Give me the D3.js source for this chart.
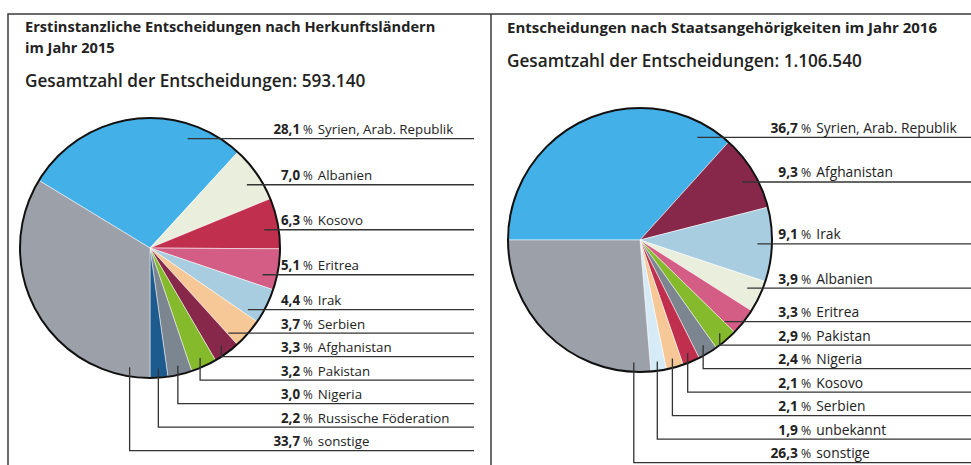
<!DOCTYPE html>
<html>
<head>
<meta charset="utf-8">
<script src="https://cdn.jsdelivr.net/npm/d3@7"></script>
<style>
  body { margin: 0; background: #fff; }
  text { font-family: "Open Sans", "Noto Sans", sans-serif; fill: #222; }
</style>
</head>
<body>
<div id="chart"></div>
<script>
// --- data
var countries2015 = ["Syrien, Arab. Republik", "Albanien", "Kosovo", "Eritrea", "Irak", "Serbien",
  "Afghanistan", "Pakistan", "Nigeria", "Russische Föderation", "sonstige"];
var shares2015 = [28.1, 7.0, 6.3, 5.1, 4.4, 3.7, 3.3, 3.2, 3.0, 2.2, 33.7];

var countries2016 = ["Syrien, Arab. Republik", "Afghanistan", "Irak", "Albanien", "Eritrea", "Pakistan",
  "Nigeria", "Kosovo", "Serbien", "unbekannt", "sonstige"];
var shares2016 = [36.7, 9.3, 9.1, 3.9, 3.3, 2.9, 2.4, 2.1, 2.1, 1.9, 26.3];

var titles2015 = ["Erstinstanzliche Entscheidungen nach Herkunftsländern", "im Jahr 2015"];
var titles2016 = ["Entscheidungen nach Staatsangehörigkeiten im Jahr 2016"];
var total2015 = "Gesamtzahl der Entscheidungen: 593.140";
var total2016 = "Gesamtzahl der Entscheidungen: 1.106.540";

// one colour per country, shared by both pies
var color = d3.scaleOrdinal()
  .domain(["Syrien, Arab. Republik", "Albanien", "Kosovo", "Eritrea", "Irak", "Serbien", "Afghanistan",
    "Pakistan", "Nigeria", "Russische Föderation", "sonstige", "unbekannt"])
  .range(["#43b0e8", "#eaeedc", "#c0304e", "#d35d84", "#a9cde0", "#f6c897", "#87284b",
    "#85ba2c", "#7b8690", "#1d5a8e", "#9ca0a9", "#d7ebf6"]);

var width = 971, height = 465;
var fmt = function(v) { return d3.format(".1f")(v).replace(".", ","); };

var svg = d3.select("#chart").append("svg")
  .attr("width", width)
  .attr("height", height);

// panel frame
svg.append("path")
  .attr("d", "M8,465V14H971M491,14V465")
  .attr("fill", "none")
  .attr("stroke", "#3a3a3a")
  .attr("stroke-width", 1.5);

function drawPie(names, shares, opt) {
  var data = names.map(function(n, i) { return { name: n, share: shares[i] }; });
  var pie = d3.pie().sort(null).value(function(d) { return d.share; })
    .startAngle(opt.start).endAngle(opt.start + 2 * Math.PI);
  var arcs = pie(data);
  var arc = d3.arc().innerRadius(0).outerRadius(opt.r);

  var g = svg.append("g").attr("transform", "translate(" + [opt.cx, opt.cy] + ")");
  g.selectAll("path")
    .data(arcs)
    .enter()
    .append("path")
    .attr("d", arc)
    .attr("fill", function(d) { return color(d.data.name); })
    .attr("stroke", "#fff")
    .attr("stroke-width", 0.5);
  g.append("circle")
    .attr("r", opt.r)
    .attr("fill", "none")
    .attr("stroke", "#111")
    .attr("stroke-width", 2);

  // label rows: big slices sit at their own height, the small ones stack up from the bottom
  var n = arcs.length;
  var rows = arcs.map(function(d) {
    var a = (d.startAngle + d.endAngle) / 2;
    return opt.cy - Math.cos(a) * opt.r * 0.85;
  });
  for (var i = 1; i < n - opt.stack; i++) rows[i] = Math.max(rows[i], rows[i - 1] + opt.gap);
  for (var k = n - opt.stack; k < n; k++) rows[k] = opt.bottom - (n - 1 - k) * opt.step;

  var r1 = opt.r * 0.89, r2 = opt.r * 0.93, tol = 0.04;
  var lines = arcs.map(function(d, i) {
    var y = rows[i], dy = y - opt.cy;
    if (Math.abs(dy) < r1) {
      var dx = Math.sqrt(r1 * r1 - dy * dy);
      var ang = Math.atan2(dx, -dy);
      var inside = [ang, ang - 2 * Math.PI, ang + 2 * Math.PI].some(function(a) {
        return a >= d.startAngle - tol && a <= d.endAngle + tol;
      });
      if (inside) return "M" + (opt.cx + dx) + "," + y + "H" + opt.lineEnd;
    }
    var frac = i === n - 1 ? 0.08 : 0.5;
    var a = d.startAngle + frac * (d.endAngle - d.startAngle);
    var px = opt.cx + Math.sin(a) * r2, py = opt.cy - Math.cos(a) * r2;
    return "M" + px + "," + py + "V" + y + "H" + opt.lineEnd;
  });

  svg.append("g").selectAll("path")
    .data(lines)
    .enter()
    .append("path")
    .attr("d", function(d) { return d; })
    .attr("fill", "none")
    .attr("stroke", "#333")
    .attr("stroke-width", 1.3);

  var lab = svg.append("g").selectAll("g")
    .data(arcs)
    .enter()
    .append("g")
    .attr("transform", function(d, i) { return "translate(" + [opt.numX, rows[i] - 4.5] + ")"; })
    .style("font-size", opt.font + "px");
  lab.append("text")
    .attr("text-anchor", "end")
    .attr("font-weight", 700)
    .text(function(d) { return fmt(d.data.share); });
  lab.append("text")
    .attr("x", 3)
    .style("font-size", (opt.font - 1.5) + "px")
    .text("%");
  lab.append("text")
    .attr("x", opt.font + 4.5)
    .text(function(d) { return d.data.name; });
}

function drawTitles(lines, total, x, ys, totalY, size) {
  svg.selectAll(null)
    .data(lines)
    .enter()
    .append("text")
    .attr("x", x)
    .attr("y", function(d, i) { return ys[i]; })
    .attr("font-weight", 700)
    .style("font-size", size + "px")
    .text(function(d) { return d; });
  svg.append("text")
    .attr("x", x)
    .attr("y", totalY)
    .attr("font-weight", 600)
    .style("font-size", "17.2px")
    .text(total);
}

drawTitles(titles2015, total2015, 25, [32, 53], 87, 14.6);
drawTitles(titles2016, total2016, 507, [33], 67, 15);

// left pie: "sonstige" starts straight down
var rest2015 = d3.sum(shares2015.slice(0, -1)) / d3.sum(shares2015);
drawPie(countries2015, shares2015, {
  cx: 150, cy: 248, r: 130, start: Math.PI - rest2015 * 2 * Math.PI,
  gap: 45, step: 23.5, stack: 7, bottom: 450.7, numX: 300, lineEnd: 474, font: 13.3
});
drawPie(countries2016, shares2016, {
  cx: 640, cy: 240, r: 132, start: -Math.PI / 2,
  gap: 23.5, step: 23.5, stack: 7, bottom: 462.7, numX: 798, lineEnd: 971, font: 13.8
});
</script>
</body>
</html>
